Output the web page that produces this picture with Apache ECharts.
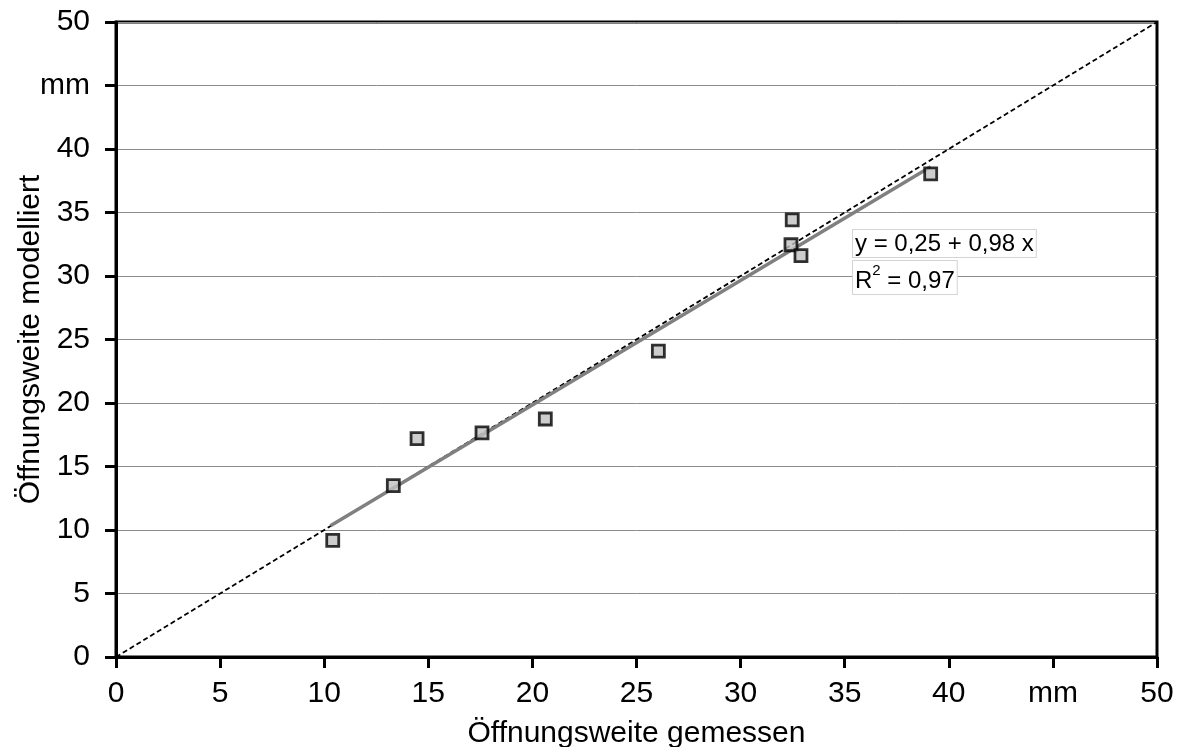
<!DOCTYPE html>
<html>
<head>
<meta charset="utf-8">
<script src="https://cdn.jsdelivr.net/npm/echarts@6/dist/echarts.min.js"></script>
<style>
  html, body { margin: 0; padding: 0; background: #fff; }
  #chart { width: 1184px; height: 747px; }
</style>
</head>
<body>
<div id="chart"></div>
<script>
// Measured vs. modelled opening width (mm)
const measured = [10.41, 13.32, 14.46, 17.58, 20.62, 26.05, 32.48, 32.42, 32.90, 39.13];
const modelled = [9.19, 13.49, 17.19, 17.64, 18.74, 24.09, 34.42, 32.46, 31.60, 38.04];

// Linear fit y = a + b x, drawn over the measured range
const fitIntercept = 0.25;
const fitSlope = 0.98;
const fitRange = [10.3, 39.13];
const fitR2 = 0.97;

// Identity line 1:1
const identity = [[0, 0], [50, 50]];

// Axis ticks: the 45 slot carries the unit
const unitTick = 45;
const unitLabel = 'mm';

const points = measured.map((x, i) => [x, modelled[i]]);
const fitLine = fitRange.map(x => [x, fitIntercept + fitSlope * x]);

const FONT = '"Liberation Sans", Arial, Helvetica, sans-serif';
const tickFmt = v => (v === unitTick ? unitLabel : String(v));
const deNum = v => String(v).replace('.', ',');

const chart = echarts.init(document.getElementById('chart'));
chart.setOption({
  animation: false,
  backgroundColor: '#fff',
  grid: {
    left: 116, right: 27, top: 22, bottom: 90,
    containLabel: false, outerBoundsMode: 'none',
    show: true, borderColor: '#000', borderWidth: 3
  },
  xAxis: {
    type: 'value', min: 0, max: 50, interval: 5,
    name: 'Öffnungsweite gemessen',
    nameLocation: 'middle', nameGap: 62, nameMoveOverlap: false,
    nameTextStyle: { fontFamily: FONT, fontSize: 30, color: '#000' },
    axisLine: { onZero: false, lineStyle: { color: '#000', width: 3 } },
    axisTick: { show: true, length: 11, lineStyle: { color: '#000', width: 3 } },
    axisLabel: { formatter: tickFmt, fontFamily: FONT, fontSize: 30, color: '#000', margin: 22 },
    splitLine: { show: false }
  },
  yAxis: {
    type: 'value', min: 0, max: 50, interval: 5,
    name: 'Öffnungsweite modelliert',
    nameLocation: 'middle', nameGap: 70, nameMoveOverlap: false,
    nameTextStyle: { fontFamily: FONT, fontSize: 30, color: '#000' },
    axisLine: { onZero: false, lineStyle: { color: '#000', width: 3 } },
    axisTick: { show: true, length: 11, lineStyle: { color: '#000', width: 3 } },
    axisLabel: { formatter: tickFmt, fontFamily: FONT, fontSize: 30, color: '#000', margin: 26 },
    splitLine: { show: true, lineStyle: { color: '#8c8c8c', width: 1 } }
  },
  series: [
    {
      type: 'line', data: identity, symbol: 'none', silent: true,
      lineStyle: { color: '#000', width: 1.8, type: [5, 3] }, z: 2
    },
    {
      type: 'line', data: fitLine, symbol: 'none', silent: true,
      lineStyle: { color: '#808080', width: 3.5 }, z: 3
    },
    {
      type: 'scatter', data: points, symbol: 'rect', symbolSize: 12,
      itemStyle: { color: '#c0c0c0', borderColor: '#000', borderWidth: 2.8 }, z: 4
    }
  ],
  graphic: [
    {
      type: 'text', left: 852, top: 229, z: 10,
      style: {
        text: 'y = ' + deNum(fitIntercept) + ' + ' + deNum(fitSlope) + ' x',
        fontFamily: FONT, fontSize: 24, fill: '#000',
        backgroundColor: '#fff', borderColor: '#d4d4d4', borderWidth: 1,
        padding: [2, 2, 1, 2]
      }
    },
    {
      type: 'text', left: 852, top: 260, z: 10,
      style: {
        text: '{b|R}{sup|2}{b| = ' + deNum(fitR2) + '}',
        backgroundColor: '#fff', borderColor: '#d4d4d4', borderWidth: 1,
        padding: [2, 2, 1, 2],
        rich: {
          b: { fontFamily: FONT, fontSize: 24, fill: '#000', verticalAlign: 'bottom', lineHeight: 30 },
          sup: { fontFamily: FONT, fontSize: 15, fill: '#000', verticalAlign: 'top', lineHeight: 30, padding: [0, 0, 11, 0] }
        }
      }
    }
  ]
});
</script>
</body>
</html>
